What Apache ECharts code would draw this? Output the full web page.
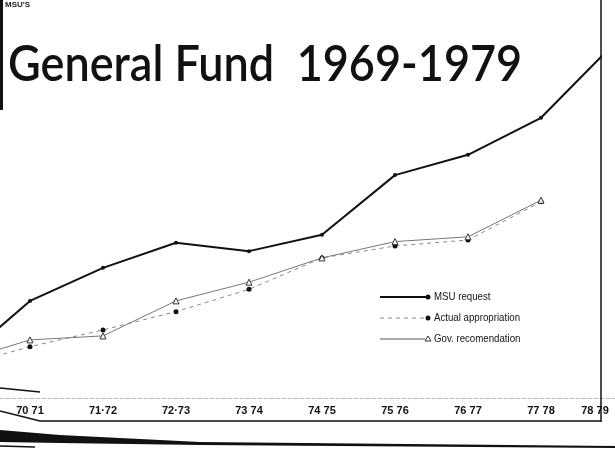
<!DOCTYPE html>
<html><head><meta charset="utf-8">
<script src="https://cdn.jsdelivr.net/npm/echarts@6/dist/echarts.min.js"></script>
<style>html,body{margin:0;padding:0;background:#fff}#c{width:615px;height:458px}</style>
</head><body><div id="c"></div>
<script>
// Fiscal years (index 0 = 69-70 lies just off the left edge of the original sheet)
const years = ['69-70','70-71','71-72','72-73','73-74','74-75','75-76','76-77','77-78','78-79'];
const yearLabels = ['', '70 71', '71·72', '72·73', '73 74', '74 75', '75 76', '76 77', '77 78', '78 79'];
// Relative amounts (no scale printed)
const msuRequest = [8.5, 24.4, 32.7, 39.0, 36.9, 41.0, 56.0, 61.1, 70.4, 89.0];
const actualAppropriation = [7.8, 12.9, 17.1, 21.7, 27.3, 35.2, 38.2, 39.7, 49.3, null];
const govRecommendation = [9.0, 14.6, 15.6, 24.4, 29.1, 35.2, 39.3, 40.5, 49.7, null];
const legendNames = ['MSU request', 'Actual appropriation', 'Gov. recomendation'];
const titleText = 'General Fund  1969-1979';

const pairs = arr => arr.map((v, i) => [i, v]).filter(p => p[1] != null);
const chart = echarts.init(document.getElementById('c'));
const hand = 'Liberation Sans';
chart.setOption({
  animation: false,
  backgroundColor: '#fff',
  grid: {left: 0, right: 0, top: 0, bottom: 60},
  xAxis: {
    type: 'value', min: 0.589, max: 9.0137,
    splitLine: {show: false},
    axisLine: {lineStyle: {color: '#bbb', type: 'dashed', width: 1}},
    axisTick: {show: false},
    axisLabel: {
      customValues: [1, 2, 3, 4, 5, 6, 7, 8, 9], margin: 7,
      fontFamily: hand, fontWeight: 'bold', fontSize: 11, color: '#111',
      formatter: v => v === 9 ? '{r|' + yearLabels[9] + '}' : yearLabels[v],
      rich: {r: {fontFamily: hand, fontWeight: 'bold', fontSize: 11, color: '#111', padding: [0, 38, 0, 0]}}
    }
  },
  yAxis: {type: 'value', min: 0, max: 100, show: false, splitLine: {show: false}},
  series: [
    {name: legendNames[0], type: 'line', data: pairs(msuRequest), symbol: 'circle', symbolSize: 4,
      lineStyle: {color: '#111', width: 2}, itemStyle: {color: '#111'}},
    {name: legendNames[1], type: 'line', data: pairs(actualAppropriation), symbol: 'circle', symbolSize: 5,
      lineStyle: {color: '#888', width: 1, type: [4, 4]}, itemStyle: {color: '#111'}},
    {name: legendNames[2], type: 'line', data: pairs(govRecommendation), symbol: 'triangle', symbolSize: 6,
      lineStyle: {color: '#777', width: 1}, itemStyle: {color: '#fff', borderColor: '#333', borderWidth: 1}}
  ],
  graphic: [
    {type: 'rect', z: 100, shape: {x: 602, y: 0, width: 13, height: 397}, style: {fill: '#fff'}},
    {type: 'text', z: 100, x: 8, y: 40, scaleX: 0.9, style: {text: titleText, fontFamily: 'Lato', fontWeight: 600,
      fontSize: 50, fill: '#111', verticalAlign: 'top'}},
    {type: 'rect', z: 100, shape: {x: 0, y: 0, width: 3, height: 110}, style: {fill: '#111'}},
    {type: 'text', z: 100, x: 5, y: 1, style: {text: "MSU'S", fontSize: 8, fontWeight: 'bold', fill: '#222', fontFamily: hand}},
    {type: 'line', z: 100, shape: {x1: 601, y1: 0, x2: 601, y2: 422}, style: {stroke: '#111', lineWidth: 1.5}},
    {type: 'polyline', z: 100, shape: {points: [[0, 388], [40, 392]]}, style: {stroke: '#111', lineWidth: 1.5}},
    {type: 'polyline', z: 100, shape: {points: [[0, 411], [40, 421], [601, 421]]}, style: {stroke: '#111', lineWidth: 1.5, fill: null}},
    {type: 'polygon', z: 100, shape: {points: [[0, 430], [60, 435], [200, 442], [615, 446], [615, 448], [200, 445], [60, 443], [0, 442]]},
      style: {fill: '#111'}},
    {type: 'polyline', z: 100, shape: {points: [[0, 446], [35, 447]]}, style: {stroke: '#111', lineWidth: 1.5}},
    // legend
    {type: 'line', z: 100, shape: {x1: 380, y1: 297, x2: 428, y2: 297}, style: {stroke: '#111', lineWidth: 2}},
    {type: 'circle', z: 100, shape: {cx: 428, cy: 297, r: 2.5}, style: {fill: '#111'}},
    {type: 'text', z: 100, x: 434, y: 297, scaleX: 0.88, style: {text: legendNames[0], fontFamily: hand, fontSize: 11, fill: '#111', verticalAlign: 'middle'}},
    {type: 'line', z: 100, shape: {x1: 380, y1: 318, x2: 428, y2: 318}, style: {stroke: '#888', lineWidth: 1, lineDash: [4, 4]}},
    {type: 'circle', z: 100, shape: {cx: 428, cy: 318, r: 2.5}, style: {fill: '#111'}},
    {type: 'text', z: 100, x: 434, y: 318, scaleX: 0.88, style: {text: legendNames[1], fontFamily: hand, fontSize: 11, fill: '#111', verticalAlign: 'middle'}},
    {type: 'line', z: 100, shape: {x1: 380, y1: 339, x2: 425, y2: 339}, style: {stroke: '#555', lineWidth: 1}},
    {type: 'polygon', z: 100, shape: {points: [[428, 336], [431, 341], [425, 341]]}, style: {fill: '#fff', stroke: '#333', lineWidth: 1}},
    {type: 'text', z: 100, x: 434, y: 339, scaleX: 0.88, style: {text: legendNames[2], fontFamily: hand, fontSize: 11, fill: '#111', verticalAlign: 'middle'}}
  ]
});
</script></body></html>
